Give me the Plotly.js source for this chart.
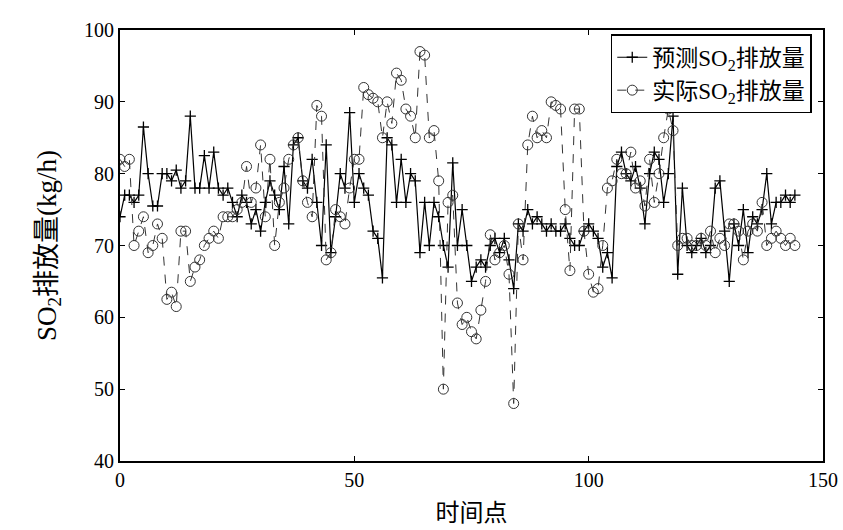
<!DOCTYPE html>
<html>
<head>
<meta charset="utf-8">
<script src="https://cdn.plot.ly/plotly-3.0.1.min.js"></script>
<style>html,body{margin:0;padding:0;background:#fff;}#chart{width:843px;height:530px;}</style>
</head>
<body>
<div id="chart"></div>
<script>
var predicted = [74,77,77,76,77,86.5,80,75.5,75.5,80,80,79,80.5,78,79,88,78,78,82.5,78,83,78,77,78,76,74,77,76,73,75,72,76,79,77,75,81,73,84,85,79,78,82,76,70,84,69,74,80,78,88.5,76,80,78,77,72,71,65.5,85,84,76,82,76,80,79,69,76,70,76,74,70,67,81.5,70,75,70,65,67,68,67,70,71,69,71,68,64,73,72,75,73,74,73,72,73,72,72,73,71,70,70,72,73,72,71,67,69,65.5,81,83,80,79,81,78,73,80,83,82,76,80,88,66,78,70,69,70,71,69,70,78,79,72,65,73,70,75,69,74,73,75,80,73,76,76,77,76,77];
var actual = [82,81,82,70,72,74,69,70,73,71,62.5,63.5,61.5,72,72,65,67,68,70,71,72,71,74,74,74,75,76,81,76,78,84,74,82,70,76,78,82,84,85,79,76,74,89.5,88,68,69,75,74,73,78,82,82,92,91,90.5,90,85,90,87,94,93,89,88,85,97,96.5,85,86,79,50,76,77,62,59,60,58,57,61,65,71.5,68,69,70,66,48,73,68,84,88,85,86,85,90,89.5,89,75,66.5,89,89,72,66,63.5,64,70,78,79,82,80,80,83,78,79,75.5,82,76,80,85,89,86,70,71,71,70,70,71,70,72,69,71,70,73,73,72,68,72,73,72,76,70,71,72,71,70,71,70];
var timePoints = predicted.map(function(_, i){ return i; });
var seriesNames = ['预测SO<sub>2</sub>排放量', '实际SO<sub>2</sub>排放量'];
var xTicks = [0, 50, 100, 150];
var yTicks = [40, 50, 60, 70, 80, 90, 100];

var FONT = "'Liberation Serif', 'Noto Sans CJK SC', serif";

var traces = [
  {
    x: timePoints, y: predicted, name: seriesNames[0], type: 'scatter', mode: 'lines+markers',
    line: {color: '#000', width: 1.2},
    marker: {symbol: 'cross-thin', size: 8, color: '#000', line: {color: '#000', width: 1.3}}
  },
  {
    x: timePoints, y: actual, name: seriesNames[1], type: 'scatter', mode: 'lines+markers',
    line: {color: '#333', width: 1, dash: 'dash'},
    marker: {symbol: 'circle-open', size: 10, color: '#333', line: {width: 1}}
  }
];

var axisCommon = {
  showgrid: false, zeroline: false, showline: true, linecolor: '#000', linewidth: 2,
  mirror: 'ticks', ticks: 'inside', ticklen: 5, tickcolor: '#000', tickwidth: 1,
  tickfont: {family: FONT, size: 20, color: '#000'}
};

var layout = {
  width: 843, height: 530,
  margin: {l: 120, r: 20, t: 30, b: 69},
  paper_bgcolor: '#fff', plot_bgcolor: '#fff',
  showlegend: true,
  legend: {
    x: 0.984, y: 0.99, xanchor: 'right', yanchor: 'top',
    bgcolor: '#fff', bordercolor: '#000', borderwidth: 1.5,
    font: {family: FONT, size: 23, color: '#000'},
    tracegroupgap: 0
  },
  xaxis: Object.assign({}, axisCommon, {
    range: [0, 150], tickvals: xTicks,
    title: {text: '时间点', font: {family: FONT, size: 24, color: '#000'}, standoff: 14}
  }),
  yaxis: Object.assign({}, axisCommon, {
    range: [40, 100], tickvals: yTicks,
    title: {text: 'SO<sub>2</sub>排放量(kg/h)', font: {family: FONT, size: 27, color: '#000'}, standoff: 20}
  })
};

Plotly.newPlot('chart', traces, layout, {displayModeBar: false, staticPlot: true});
</script>
</body>
</html>
